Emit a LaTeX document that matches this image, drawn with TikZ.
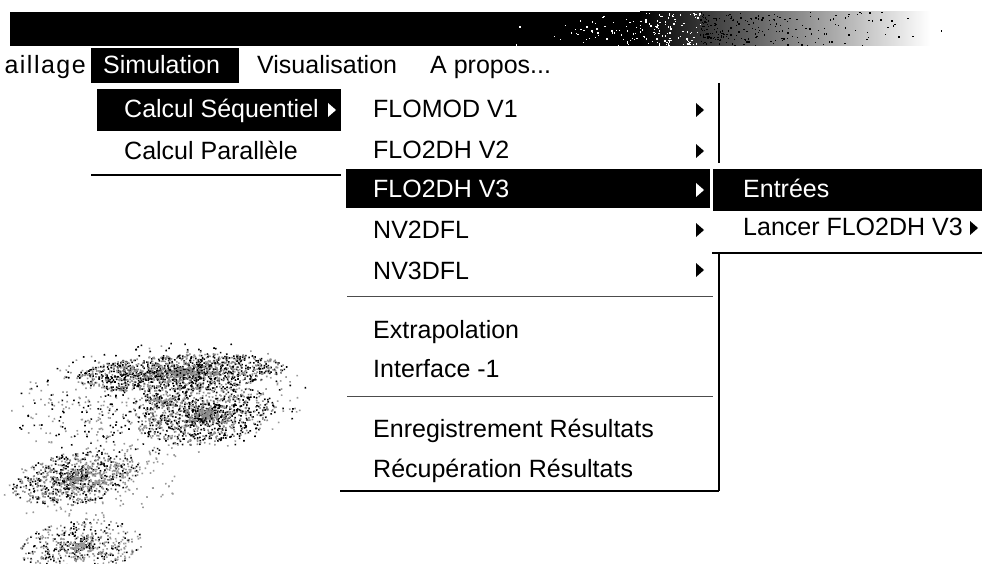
\documentclass[tikz,border=0pt]{standalone}
\usepackage{fontspec}
\setmainfont{Liberation Sans}

% small submenu marker: left-middle point, colour
\newcommand\subarrow[3]{\fill[#3] (#1,#2) -- ++(0,-7) -- ++(8,7) -- ++(-8,7) -- cycle;}

% halftone grain inside a rotated ellipse: cx, cy, a, b, angle, count, colour
\newcommand\grainblob[7]{%
  \begin{scope}[shift={(#1,#2)},rotate=#5]
    \foreach \k in {1,...,#6}{%
      \pgfmathsetmacro\grainr{rnd}%
      \pgfmathsetmacro\grainth{360*rnd}%
      \fill[#7] ({#3*\grainr*cos(\grainth)},{#4*\grainr*sin(\grainth)}) rectangle ++(1.6,1.6);
    }
  \end{scope}}

\begin{document}
\begin{tikzpicture}[x=1pt,y=-1pt,
  menu/.style={font=\fontsize{25}{29}\selectfont, inner sep=0pt, anchor=base west, text=black},
  menusel/.style={menu, text=white},
  border/.style={line width=1.6pt, draw=black},
  sep/.style={line width=0.9pt, draw=black!70},
  hilite/.style={fill=black}]
\useasboundingbox (0,0) rectangle (982,564);
\fill[white] (0,0) rectangle (982,564);
\clip (0,0) rectangle (982,564);
\pgfmathsetseed{4711}

% ---- title bar, fading out to the right ----
\fill[black] (10,12) rectangle (640,46);
\shade[left color=black, right color=white] (640,12) rectangle (930,46);
\foreach \k in {1,...,160}{\fill[white] ({700-200*rnd*rnd},{12+33*rnd}) rectangle ++(1.3,1.3);}
\foreach \k in {1,...,220}{\fill[black] ({700+250*rnd*rnd},{12+33*rnd}) rectangle ++(1.3,1.3);}

% ---- menu bar ----
\fill[hilite] (91,48) rectangle (239,83);
\node[menu, anchor=base east] (maill) at (86,74) {\addfontfeature{LetterSpace=6}aillage};
\node[menusel] (simu) at (103,74) {Simulation};
\node[menu] (visu) at (257,74) {Visualisation};
\node[menu] (apropos) at (430,74) {A propos...};

% ---- first drop-down ----
\fill[hilite] (97,89) rectangle (341,131);
\node[menusel] (seq) at (124,118) {Calcul Séquentiel};
\subarrow{328}{110}{white}
\node[menu] (par) at (124,160) {Calcul Parallèle};
\draw[border] (91,175) -- (341,175);

% ---- second drop-down ----
\fill[hilite] (346,169) rectangle (710,208);
\node[menu] (flomod) at (373,118) {FLOMOD V1};
\node[menu] (flotwo) at (373,159) {FLO2DH V2};
\node[menusel] (flothree) at (373,198) {FLO2DH V3};
\node[menu] (nvtwo) at (373,238) {NV2DFL};
\node[menu] (nvthree) at (373,279) {NV3DFL};
\subarrow{696}{110}{black}
\subarrow{696}{151}{black}
\subarrow{696}{190}{white}
\subarrow{696}{230}{black}
\subarrow{696}{270}{black}
\draw[sep] (347,296) -- (713,296);
\node[menu] (extra) at (373,338) {Extrapolation};
\node[menu] (interf) at (373,377) {Interface -1};
\draw[sep] (347,396) -- (713,396);
\node[menu] (enreg) at (373,437) {Enregistrement Résultats};
\node[menu] (recup) at (373,477) {Récupération Résultats};
\draw[border] (340,491) -- (719,491);
\draw[border] (719,83) -- (719,163);
\draw[border] (719,253) -- (719,491);

% ---- third level submenu ----
\fill[hilite] (713,169) rectangle (982,211);
\node[menusel] (entrees) at (743,198) {Entrées};
\node[menu] (lancer) at (743,236) {Lancer FLO2DH V3};
\subarrow{970}{228}{black}
\draw[border] (712,253) -- (982,253);

% ---- halftone smudges, lower left ----
\grainblob{180}{372}{105}{18}{3}{850}{black}
\grainblob{180}{372}{105}{18}{3}{700}{black!45}
\grainblob{205}{415}{70}{28}{8}{520}{black}
\grainblob{205}{415}{70}{28}{8}{480}{black!45}
\grainblob{160}{400}{150}{58}{5}{350}{black}
\grainblob{160}{400}{150}{58}{5}{450}{black!40}
\grainblob{75}{478}{65}{26}{10}{380}{black}
\grainblob{75}{478}{65}{26}{10}{420}{black!45}
\grainblob{95}{482}{95}{36}{8}{220}{black!40}
\grainblob{80}{545}{62}{26}{5}{220}{black}
\grainblob{80}{545}{62}{26}{5}{360}{black!40}
\end{tikzpicture}
\end{document}
